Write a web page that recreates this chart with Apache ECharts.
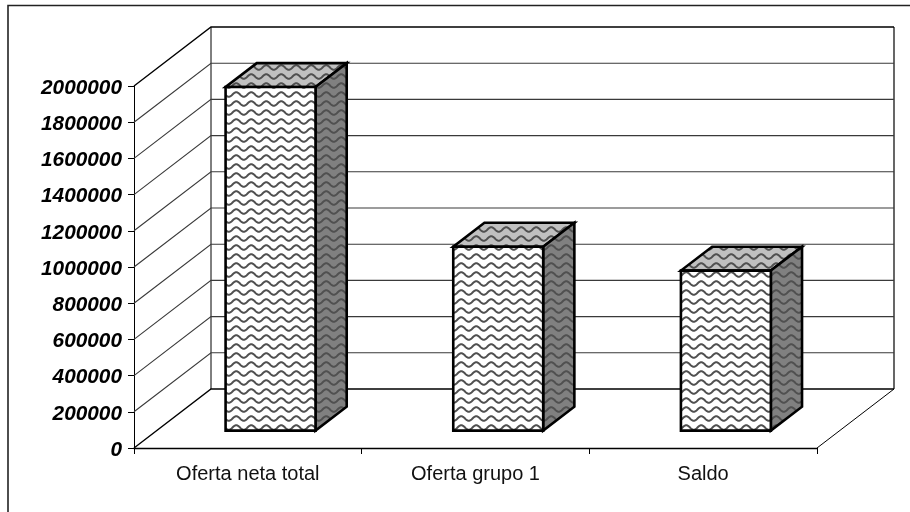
<!DOCTYPE html>
<html>
<head>
<meta charset="utf-8">
<style>html,body{margin:0;padding:0;background:#fff}#chart{width:910px;height:512px}</style>
<script src="https://cdn.jsdelivr.net/npm/echarts@6/dist/echarts.min.js"></script>
</head>
<body>
<div id="chart"></div>
<script>
// Supply figures shown as 3D columns
const categories = ['Oferta neta total', 'Oferta grupo 1', 'Saldo'];
const values = [1898000, 1016000, 884000];
const yMax = 2000000;
const yStep = 200000;
const gridValues = [0, 200000, 400000, 600000, 800000, 1000000, 1200000, 1400000, 1600000, 1800000, 2000000];

// Oblique projection of the chart's depth axis, in pixels
const DEPTH_X = 77;
const DEPTH_Y = -59;
const COL_NEAR = 0.295;  // front of a column, as a share of the depth
const COL_FAR = 0.70;    // back of a column
const COL_WIDTH = 0.395; // column width, as a share of the category band

// Wavy hatch tile used on every column face
function waveTile(bg) {
  const w = 15, h = 9;
  const c = document.createElement('canvas');
  c.width = w; c.height = h;
  const g = c.getContext('2d');
  g.fillStyle = bg;
  g.fillRect(0, 0, w, h);
  g.strokeStyle = '#505050';
  g.lineWidth = 2;
  g.lineJoin = 'round';
  g.beginPath();
  for (let x = -2; x <= w + 2; x += 0.5) {
    const y = h / 2 + 2.3 * Math.sin(2 * Math.PI * x / w);
    if (x === -2) g.moveTo(x, y); else g.lineTo(x, y);
  }
  g.stroke();
  return c;
}
const pattern = bg => ({ image: waveTile(bg), repeat: 'repeat' });
const frontFill = pattern('#ffffff');
const topFill = pattern('#c0c0c0');
const sideFill = pattern('#808080');

const chart = echarts.init(document.getElementById('chart'), null, { renderer: 'canvas' });

// Back wall, side wall and floor, drawn per gridline value
function renderWall(params, api) {
  const v = api.value(0);
  const p = api.coord([0, v]);
  const band = api.size([1, 0])[0];
  const left = p[0] - band / 2;
  const right = left + band * categories.length;
  const y = p[1];
  const isEdge = v === 0 || v === yMax;
  const children = [{
    type: 'polyline',
    shape: { points: [[left, y], [left + DEPTH_X, y + DEPTH_Y], [right + DEPTH_X, y + DEPTH_Y]] },
    style: { fill: null, stroke: isEdge ? '#000' : '#3a3a3a', lineWidth: isEdge ? 1.4 : 1.1 }
  }];
  if (v === 0) {
    const topY = api.coord([0, yMax])[1];
    children.push({
      type: 'line',
      shape: { x1: left + DEPTH_X, y1: y + DEPTH_Y, x2: left + DEPTH_X, y2: topY + DEPTH_Y },
      style: { stroke: '#000', lineWidth: 1 }
    }, {
      type: 'line',
      shape: { x1: right + DEPTH_X, y1: y + DEPTH_Y, x2: right + DEPTH_X, y2: topY + DEPTH_Y },
      style: { stroke: '#000', lineWidth: 1.2 }
    }, {
      type: 'line',
      shape: { x1: right, y1: y, x2: right + DEPTH_X, y2: y + DEPTH_Y },
      style: { stroke: '#000', lineWidth: 1 }
    });
  }
  return { type: 'group', children };
}

// One column: front, top and side faces
function renderColumn(params, api) {
  const idx = api.value(0);
  const topP = api.coord([idx, api.value(1)]);
  const baseP = api.coord([idx, 0]);
  const band = api.size([1, 0])[0];
  const w = band * COL_WIDTH;
  const nx = DEPTH_X * COL_NEAR, ny = DEPTH_Y * COL_NEAR;
  const dx = DEPTH_X * (COL_FAR - COL_NEAR), dy = DEPTH_Y * (COL_FAR - COL_NEAR);
  const x0 = topP[0] - w / 2 + nx, x1 = x0 + w;
  const yT = topP[1] + ny, yB = baseP[1] + ny;
  const edge = { stroke: '#000', lineWidth: 2.6, lineJoin: 'miter' };
  return {
    type: 'group',
    children: [
      { type: 'polygon', shape: { points: [[x0, yT], [x1, yT], [x1 + dx, yT + dy], [x0 + dx, yT + dy]] },
        style: Object.assign({ fill: topFill }, edge) },
      { type: 'polygon', shape: { points: [[x1, yT], [x1 + dx, yT + dy], [x1 + dx, yB + dy], [x1, yB]] },
        style: Object.assign({ fill: sideFill }, edge) },
      { type: 'polygon', shape: { points: [[x0, yT], [x1, yT], [x1, yB], [x0, yB]] },
        style: Object.assign({ fill: frontFill }, edge) }
    ]
  };
}

chart.setOption({
  animation: false,
  backgroundColor: '#fff',
  grid: { left: 134, right: 93, top: 86, bottom: 64 },
  graphic: [{
    type: 'rect',
    shape: { x: 8, y: 5.5, width: 1000, height: 600 },
    style: { fill: null, stroke: '#222', lineWidth: 1.6 },
    silent: true
  }],
  xAxis: {
    type: 'category',
    data: categories,
    axisLine: { lineStyle: { color: '#000', width: 1.4 } },
    axisTick: { show: true, alignWithLabel: false, length: 6, lineStyle: { color: '#000', width: 1 } },
    axisLabel: { color: '#111', fontFamily: '"Liberation Sans"', fontSize: 20, margin: 16 },
    splitLine: { show: false }
  },
  yAxis: {
    type: 'value',
    min: 0,
    max: yMax,
    interval: yStep,
    axisLine: { show: true, lineStyle: { color: '#000', width: 1 } },
    axisTick: { show: true, length: 6, lineStyle: { color: '#000', width: 1 } },
    axisLabel: {
      margin: 12,
      formatter: v => '{t|' + v + '}',
      rich: {
        t: {
          color: '#000', fontFamily: '"Liberation Sans"', fontSize: 20.8, fontWeight: 'bold', fontStyle: 'italic',
          padding: [4, 0, 0, 0]
        }
      }
    },
    splitLine: { show: false }
  },
  series: [
    {
      type: 'custom',
      coordinateSystem: 'cartesian2d',
      renderItem: renderWall,
      data: gridValues.map(v => [v]),
      encode: { y: 0 },
      silent: true,
      clip: false,
      z: 1
    },
    {
      type: 'custom',
      coordinateSystem: 'cartesian2d',
      renderItem: renderColumn,
      data: values.map((v, i) => [i, v]),
      encode: { x: 0, y: 1 },
      clip: false,
      z: 2
    }
  ]
});
</script>
</body>
</html>
